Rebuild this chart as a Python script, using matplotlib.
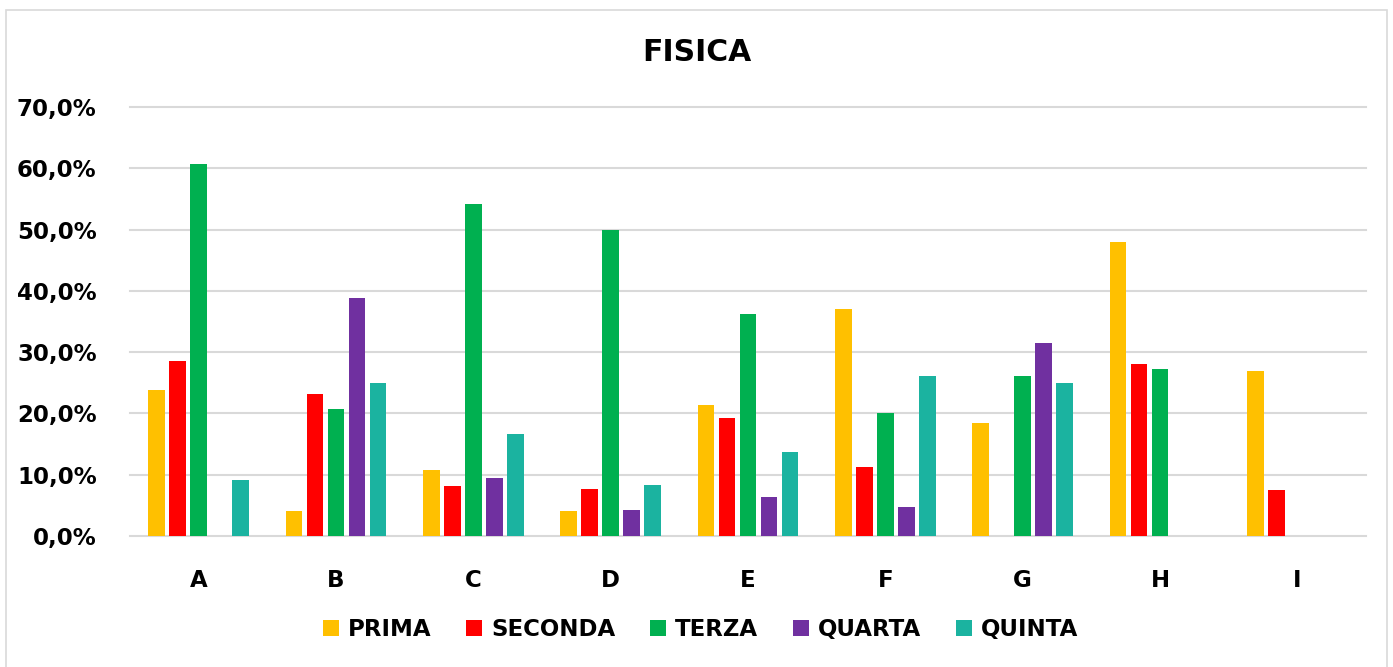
import numpy as np
import matplotlib
matplotlib.use("Agg")
import matplotlib.pyplot as plt
from matplotlib.ticker import FuncFormatter
from matplotlib.patches import Rectangle

# data (percent)
categories = ["A", "B", "C", "D", "E", "F", "G", "H", "I"]
series = ["PRIMA", "SECONDA", "TERZA", "QUARTA", "QUINTA"]
prima = [23.9, 4.0, 10.7, 4.0, 21.4, 37.0, 18.5, 47.9, 26.9]
seconda = [28.5, 23.1, 8.1, 7.7, 19.2, 11.2, 0.0, 28.0, 7.5]
terza = [60.7, 20.8, 54.1, 50.0, 36.3, 20.0, 26.1, 27.2, 0.0]
quarta = [0.0, 38.8, 9.5, 4.2, 6.3, 4.8, 31.5, 0.0, 0.0]
quinta = [9.1, 25.0, 16.6, 8.4, 13.7, 26.1, 25.0, 0.0, 0.0]
colors = ["#FFC000", "#FF0000", "#00B050", "#7030A0", "#1BB3A0"]

values = [prima, seconda, terza, quarta, quinta]

fig = plt.figure(figsize=(13.93, 6.67), dpi=100)
ax = fig.add_axes([0.0933, 0.1964, 0.8873, 0.6432])

x = np.arange(len(categories))
step = 0.153
for i, (name, vals, col) in enumerate(zip(series, values, colors)):
    ax.bar(x + (i - 2) * step, np.array(vals) / 100, width=0.122,
           color=col, label=name, zorder=3)

ax.set_xlim(-0.5, len(categories) - 0.5)
ax.set_ylim(0, 0.7)
ax.set_yticks(np.arange(0, 0.71, 0.1))
ax.yaxis.set_major_formatter(FuncFormatter(lambda v, p: f"{v*100:.1f}%".replace(".", ",")))
ax.set_xticks(x)
ax.set_xticklabels(categories)

ax.grid(axis="y", color="#d9d9d9", linewidth=1.5, zorder=0)
for gl in ax.get_ygridlines():
    gl.set_clip_on(False)
for s in ax.spines.values():
    s.set_visible(False)
ax.tick_params(axis="both", length=0, labelsize=16.5)
ax.tick_params(axis="y", pad=24)
ax.tick_params(axis="x", pad=24)
for lab in ax.get_xticklabels() + ax.get_yticklabels():
    lab.set_fontweight("bold")

fig.text(0.5, 0.922, "FISICA", ha="center", va="center",
         fontsize=21.5, fontweight="bold")

ax.legend(loc="center", bbox_to_anchor=(0.503, 0.0555), bbox_transform=fig.transFigure,
          ncol=5, frameon=False, handlelength=0.7, handleheight=0.7,
          handletextpad=0.4, columnspacing=1.5,
          prop={"size": 16.5, "weight": "bold"})

# chart border
fig.patches.append(Rectangle((6 / 1393, -0.01), 1381 / 1393, 1 - 10 / 667 + 0.01,
                             transform=fig.transFigure, fill=False,
                             edgecolor="#d9d9d9", linewidth=1.2))

fig.savefig("out.png", dpi=100)
